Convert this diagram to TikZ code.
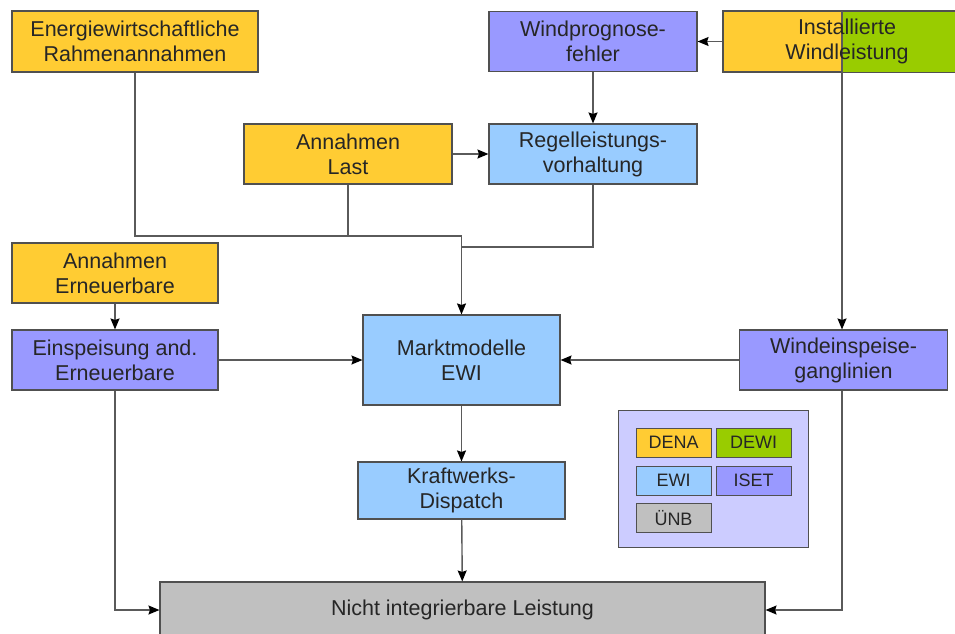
\documentclass[tikz,border=0pt]{standalone}
\usepackage{fontspec}
\setmainfont{Liberation Sans}
\usetikzlibrary{arrows.meta}
\definecolor{dena}{HTML}{FFCC33}
\definecolor{dewi}{HTML}{99CC00}
\definecolor{ewi}{HTML}{99CCFF}
\definecolor{iset}{HTML}{9999FF}
\definecolor{unb}{HTML}{C0C0C0}
\definecolor{legbg}{HTML}{CCCCFF}
\definecolor{frame}{HTML}{505050}
\definecolor{wire}{HTML}{5A5A5A}

\begin{document}
\begin{tikzpicture}[x=1pt, y=-1pt,
    >={Stealth[length=11pt,width=9pt,inset=1.5pt,color=black]},
    box/.style={draw=frame, line width=1.1pt, align=center, inner sep=0pt,
        text=black!85, font=\fontsize{21.5}{25}\selectfont},
    wide/.style={minimum width=208pt, minimum height=60pt},
    legitem/.style={draw=frame, line width=1pt, inner sep=0pt, text=black!85,
        minimum width=75pt, minimum height=29pt, font=\fontsize{18}{20}\selectfont},
    link/.style={draw=wire, line width=1.4pt}]
    \useasboundingbox (0,0) rectangle (955,633);
    % top row
    \node[box, fill=dena, minimum width=246pt, minimum height=61pt] (ener) at (135,41.5)
        {Energiewirtschaftliche\\Rahmenannahmen};
    \node[box, wide, fill=iset] (wprog) at (593,41.5) {Windprognose-\\fehler};
    \node[box, fill=dena, minimum width=248pt, minimum height=60pt] (inst) at (847,41.5) {};
    \coordinate (dsplit) at (842,70);
    \fill[dewi] (inst.north east) rectangle (inst.south -| dsplit);
    \draw[frame, line width=1.1pt] (inst.north west) rectangle (inst.south east);
    % second row
    \node[box, wide, fill=dena] (last) at (348,154) {Annahmen\\Last};
    \node[box, wide, fill=ewi] (regel) at (593,154) {Regelleistungs-\\vorhaltung};
    % left column
    \node[box, fill=dena, minimum width=206pt, minimum height=60pt] (aern) at (115,273)
        {Annahmen\\Erneuerbare};
    \node[box, fill=iset, minimum width=206pt, minimum height=60pt] (einsp) at (115,360)
        {Einspeisung and.\\Erneuerbare};
    % centre
    \node[box, fill=ewi, minimum width=197pt, minimum height=90pt] (markt) at (461.5,360)
        {Marktmodelle\\EWI};
    \node[box, fill=ewi, minimum width=207pt, minimum height=57pt] (kraft) at (461.5,490.5)
        {Kraftwerks-\\Dispatch};
    \node[box, wide, fill=iset] (wein) at (843.5,360) {Windeinspeise-\\ganglinien};
    \node[box, fill=unb, minimum width=605pt, minimum height=56pt] (nicht) at (462.5,610)
        {Nicht integrierbare Leistung};
    % legend
    \node[draw=frame, line width=1pt, fill=legbg, minimum width=190pt, minimum height=137pt]
        (legend) at (713.5,479) {};
    \node[legitem, fill=dena] (ldena) at (673.5,442.5) {DENA};
    \node[legitem, fill=dewi] (ldewi) at (753.5,442.5) {DEWI};
    \node[legitem, fill=ewi] (lewi) at (673.5,480.5) {EWI};
    \node[legitem, fill=iset] (liset) at (753.5,480.5) {ISET};
    \node[legitem, fill=unb] (lunb) at (673.5,518) {ÜNB};
    % junctions above the market model
    \coordinate (j1) at (461.5,236);
    \coordinate (j2) at (461.5,247);
    % connectors
    \draw[link, ->] (inst.west) -- (wprog.east);
    \draw[link, ->] (wprog) -- (regel);
    \draw[link, ->] (last) -- (regel);
    \draw[link, ->] (ener.south) |- (j1) -- (markt.north);
    \draw[link] (last.south) -- (last.south |- j1);
    \draw[link] (regel.south) |- (j2);
    \draw[link, ->] (dsplit |- inst.north) -- (dsplit |- wein.north);
    \node[text=black!85, align=center, font=\fontsize{21.5}{25}\selectfont] (insttext) at (inst)
        {Installierte\\Windleistung};
    \draw[link, ->] (aern) -- (einsp);
    \draw[link, ->] (einsp) -- (markt);
    \draw[link, ->] (wein) -- (markt);
    \draw[link, ->] (markt) -- (kraft);
    \draw[link, ->] (kraft) -- (nicht);
    \draw[link, ->] (einsp.south) |- (nicht.west);
    \draw[link, ->] (dsplit |- wein.south) |- (nicht.east);
\end{tikzpicture}
\end{document}
